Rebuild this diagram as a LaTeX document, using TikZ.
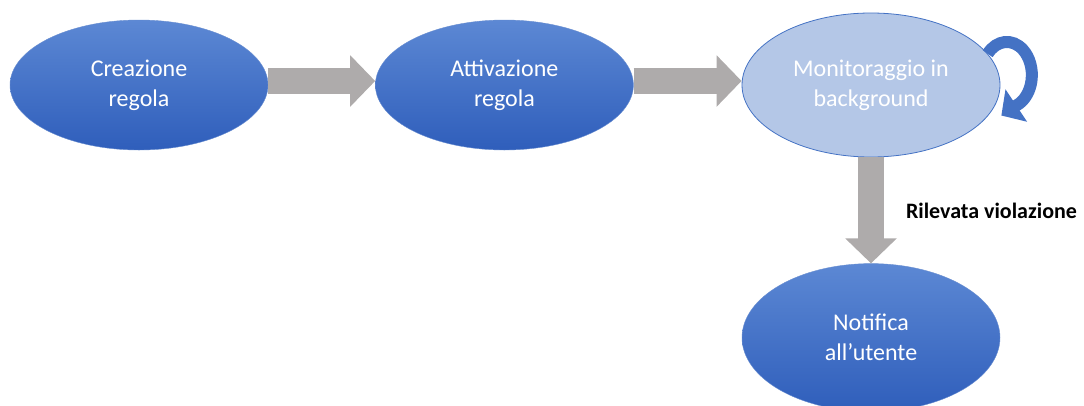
\documentclass[tikz,border=0pt]{standalone}
\usepackage{fontspec}
\setmainfont{Carlito}
\usetikzlibrary{arrows.meta,positioning,shapes.geometric}
\definecolor{ruleblue}{HTML}{4472C4}
\definecolor{ruletop}{HTML}{5C88D4}
\definecolor{rulebot}{HTML}{2F5EBB}
\definecolor{watch}{HTML}{B4C7E7}
\definecolor{flowgray}{HTML}{AEABAB}
\tikzset{phasebase/.style={ellipse,minimum width=258pt,minimum height=130pt,inner sep=0pt,align=center,font=\fontsize{24}{30}\selectfont},phase/.style={phasebase,text=white,top color=ruletop,bottom color=rulebot,draw=ruleblue!80,line width=0.4pt},idle/.style={phasebase,text=white,fill=watch,draw=ruleblue,line width=0.8pt,minimum height=144pt},flow/.style={draw=flowgray,line width=26pt,-{Triangle[length=25pt,width=50pt]}},spin/.style={draw=ruleblue,line width=12pt,-{Triangle[length=18pt,width=38pt]}}}

\begin{document}
\begin{tikzpicture}[x=1pt,y=1pt,node distance=106pt and 107pt]
\useasboundingbox (0,0) rectangle (1084,-405);
\node[phase] (create) at (139,-85) {Creazione\\regola};
\node[phase,right=of create] (activate) {Attivazione\\regola};
\node[idle,right=108pt of activate] (monitor) {Monitoraggio in\\background};
\node[phase,below=of monitor,minimum height=148pt] (notify) {Notifica\\all’utente};
\draw[flow] ([yshift=4pt]create.east) -- ([yshift=4pt]activate.west);\draw[flow] ([yshift=4pt]activate.east) -- ([yshift=4pt]monitor.west);
\draw[flow] (monitor) -- node[right,xshift=35pt,inner sep=0pt,outer sep=0pt,text=black,font=\fontsize{22}{26}\selectfont\bfseries]{Rilevata violazione} (notify);
\draw[spin] (monitor.15) arc[start angle=140,end angle=-60,x radius=25,y radius=33] -- ++(-18,-12);
\end{tikzpicture}
\end{document}
